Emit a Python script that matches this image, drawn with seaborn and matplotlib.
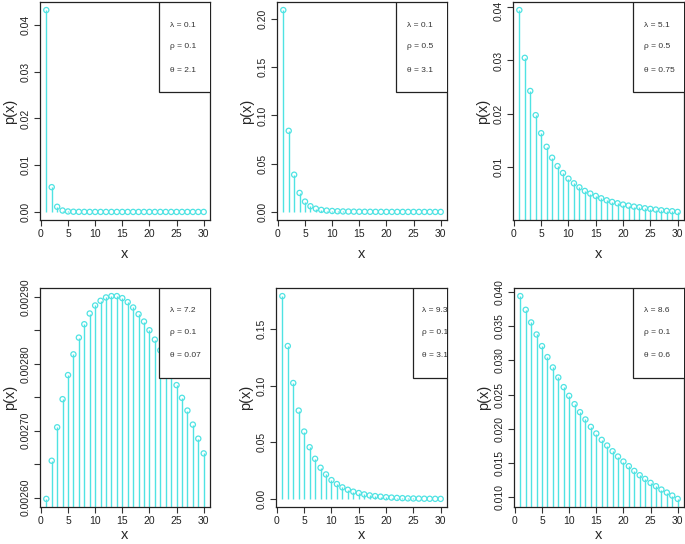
import numpy as np
import pandas as pd
import matplotlib
matplotlib.use("Agg")
import matplotlib.pyplot as plt
import matplotlib.transforms as mtransforms
import seaborn as sns
from matplotlib.patches import Rectangle

sns.set_style("ticks")
plt.rcParams['font.family'] = ['Liberation Sans', 'DejaVu Sans']

x_vals = list(range(1, 31))

p1 = [0.0432, 0.0053, 0.0011, 0.0003, 0.0001, 0.00004, 0.00002, 0.00001, 0.0, 0.0,
      0.0, 0.0, 0.0, 0.0, 0.0, 0.0, 0.0, 0.0, 0.0, 0.0,
      0.0, 0.0, 0.0, 0.0, 0.0, 0.0, 0.0, 0.0, 0.0, 0.0]
p2 = [0.2093, 0.0841, 0.0386, 0.0197, 0.0107, 0.0059, 0.0034, 0.0021, 0.0014, 0.0010,
      0.0007, 0.0005, 0.0004, 0.0003, 0.0002, 0.00018, 0.00014, 0.00011, 0.00009, 0.00007,
      0.00006, 0.00005, 0.00004, 0.00003, 0.00003, 0.00002, 0.00002, 0.00002, 0.00001, 0.00001]
p3 = [0.0395, 0.0305, 0.02426, 0.0197, 0.0163, 0.01374, 0.01168, 0.0101, 0.0088, 0.00773,
      0.00686, 0.0061, 0.00542, 0.00492, 0.00448, 0.00404, 0.00366, 0.00335, 0.0031, 0.00285,
      0.00266, 0.00247, 0.00235, 0.00216, 0.00204, 0.00191, 0.00178, 0.00166, 0.0016, 0.00147]
p4 = [0.002598, 0.002655, 0.002705, 0.002747, 0.002783, 0.002814, 0.002839, 0.002859, 0.002875, 0.002887,
      0.002894, 0.002899, 0.002901, 0.002901, 0.002898, 0.002892, 0.002884, 0.002874, 0.002863, 0.00285,
      0.002836, 0.00282, 0.002803, 0.002786, 0.002768, 0.002749, 0.00273, 0.002709, 0.002688, 0.002666]
p5 = [0.1789, 0.1349, 0.1023, 0.0780, 0.0595, 0.0457, 0.0355, 0.0276, 0.0217, 0.0167,
      0.0132, 0.0103, 0.0082, 0.0065, 0.0053, 0.0041, 0.0032, 0.0026, 0.0021, 0.0016,
      0.0013, 0.0010, 0.0008, 0.0006, 0.0005, 0.0004, 0.0003, 0.00025, 0.0002, 0.00015]
p6 = [0.03941, 0.03741, 0.03556, 0.0338, 0.0321, 0.03049, 0.02898, 0.02751, 0.0261, 0.02483,
      0.02361, 0.02244, 0.02137, 0.02029, 0.01932, 0.01839, 0.01756, 0.01673, 0.01595, 0.01522,
      0.01454, 0.01385, 0.01322, 0.01268, 0.0121, 0.01161, 0.01112, 0.01068, 0.01024, 0.00976]

legend_texts = [
    ["λ = 0.1", "ρ = 0.1", "θ = 2.1"],
    ["λ = 0.1", "ρ = 0.5", "θ = 3.1"],
    ["λ = 5.1", "ρ = 0.5", "θ = 0.75"],
    ["λ = 7.2", "ρ = 0.1", "θ = 0.07"],
    ["λ = 9.3", "ρ = 0.1", "θ = 3.1"],
    ["λ = 8.6", "ρ = 0.1", "θ = 0.6"],
]

yticks = [
    [0.00, 0.01, 0.02, 0.03, 0.04],
    [0.00, 0.05, 0.10, 0.15, 0.20],
    [0.01, 0.02, 0.03, 0.04],
    [0.00260, 0.00265, 0.00270, 0.00275, 0.00280, 0.00285, 0.00290],
    [0.00, 0.05, 0.10, 0.15],
    [0.010, 0.015, 0.020, 0.025, 0.030, 0.035, 0.040],
]
yticklabels = [
    ["0.00", "0.01", "0.02", "0.03", "0.04"],
    ["0.00", "0.05", "0.10", "0.15", "0.20"],
    ["0.01", "0.02", "0.03", "0.04"],
    ["0.00260", "", "0.00270", "", "0.00280", "", "0.00290"],
    ["0.00", "0.05", "0.10", "0.15"],
    ["0.010", "0.015", "0.020", "0.025", "0.030", "0.035", "0.040"],
]
xticks = [0, 5, 10, 15, 20, 25, 30]

series = [p1, p2, p3, p4, p5, p6]

W, H = 685, 544
# pixel boxes: left, right, top, bottom
boxes = [
    (40, 210, 2, 220), (277, 447, 2, 220), (513, 684, 2, 220),
    (40, 210, 288, 507), (276, 447, 288, 507), (514, 684, 288, 507),
]
leg_left = [0.70, 0.70, 0.70, 0.70, 0.80, 0.70]
txt_left = [0.765, 0.765, 0.766, 0.765, 0.854, 0.765]

cyan = "#4fe3e3"

fig = plt.figure(figsize=(W / 100, H / 100), dpi=100)

for i, (l, r, t, b) in enumerate(boxes):
    ax = fig.add_axes([l / W, (H - b) / H, (r - l) / W, (b - t) / H])
    df = pd.DataFrame({"x": x_vals, "p": series[i]})
    ax.vlines(df["x"], 0, df["p"], color=cyan, lw=1.0, zorder=2)
    sns.scatterplot(data=df, x="x", y="p", ax=ax, marker="o", s=14,
                    facecolors="none", edgecolor=cyan, linewidth=0.9, zorder=3)
    lo, hi = min(series[i]), max(series[i])
    pad = 0.04 * (hi - lo)
    ax.set_ylim(lo - pad, hi + pad)
    ax.set_xlim(1 - 0.04 * 29, 30 + 0.04 * 29)
    ax.set_xticks(xticks)
    ax.set_xticklabels([str(v) for v in xticks], fontsize=7.5, color="#222222")
    ax.set_yticks(yticks[i])
    ax.set_yticklabels(yticklabels[i], fontsize=7.5, color="#222222",
                       rotation=90, va="center")
    ax.tick_params(axis="both", length=4, width=0.8, color="#333333", pad=2.5)
    for s in ax.spines.values():
        s.set_linewidth(0.9)
        s.set_color("#222222")
    top_row = i < 3
    ax.set_xlabel("x", fontsize=10.5, labelpad=6 if top_row else 1.5)
    ax.set_ylabel("p(x)", fontsize=10.5, labelpad=3)
    if i == 2:
        # keep the top-most tick label inside the figure
        lab = ax.get_yticklabels()[-1]
        lab.set_transform(lab.get_transform() +
                          mtransforms.ScaledTranslation(0, -2.5 / 72, fig.dpi_scale_trans))
    # legend box
    hgt = 0.413 if top_row else 0.411
    rect = Rectangle((leg_left[i], 1 - hgt), 1.2, hgt, transform=ax.transAxes,
                     facecolor="white", edgecolor="#222222", lw=0.9, zorder=5,
                     clip_on=True)
    ax.add_patch(rect)
    ys = [0.894, 0.798, 0.688] if top_row else [0.895, 0.795, 0.694]
    for txt, yy in zip(legend_texts[i], ys):
        ax.text(txt_left[i], yy, txt, transform=ax.transAxes, fontsize=6,
                va="center", ha="left", color="#333333", zorder=6, clip_on=True)

fig.savefig("out.png", dpi=100)
